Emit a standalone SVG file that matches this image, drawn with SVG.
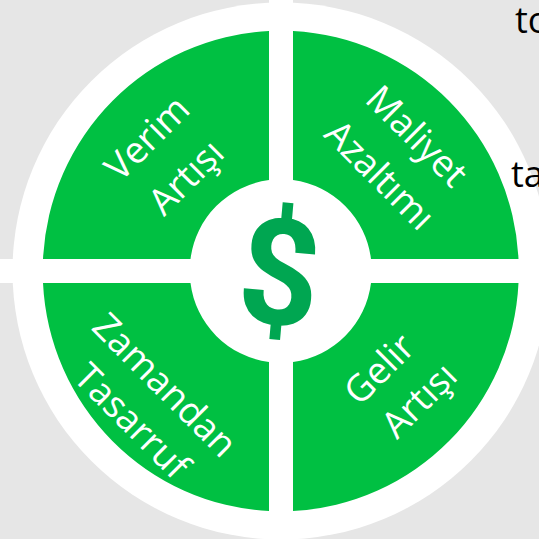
<svg xmlns="http://www.w3.org/2000/svg" width="539" height="539" viewBox="0 0 539 539">
<style>
.q{fill:#00C042}
.l{font-family:"Open Sans","Liberation Sans",sans-serif;font-size:37px;fill:#fff;text-anchor:middle}
.k{font-family:"Open Sans","Liberation Sans",sans-serif;font-size:36px;fill:#000}
</style>
<rect width="539" height="539" fill="#E6E6E6"/>
<circle cx="281" cy="271" r="268.500" fill="#fff"/>
<rect x="269" y="0" width="24" height="539" fill="#fff"/>
<rect x="0" y="259" width="539" height="24" fill="#fff"/>
<g id="verim">
<path class="q" d="M269 31A238 240 0 0 0 43 259H190.500A91 91 0 0 1 269 180Z"/>
<text class="l" transform="translate(147 138) rotate(-45)"><tspan x="0" y="13">Verim</tspan></text>
<text class="l" transform="translate(186 177) rotate(-45)"><tspan x="0" y="13">Artışı</tspan></text>
</g>
<g id="maliyet">
<path class="q" d="M293 31A238 240 0 0 1 518.500 259H371A91 91 0 0 0 293 180Z"/>
<text class="l" transform="translate(417 136) rotate(45)"><tspan x="0" y="13">Maliyet</tspan></text>
<text class="l" transform="translate(380 175) rotate(45)"><tspan x="0" y="13">Azaltımı</tspan></text>
</g>
<g id="zamandan">
<path class="q" d="M269 511A238 240 0 0 1 43 283H190.500A91 91 0 0 0 269 362Z"/>
<text class="l" transform="translate(165 385) rotate(45)"><tspan x="0" y="13">Zamandan</tspan></text>
<text class="l" transform="translate(132 421) rotate(45)"><tspan x="0" y="13">Tasarruf</tspan></text>
</g>
<g id="gelir">
<path class="q" d="M293 511A238 240 0 0 0 518.500 283H371A91 91 0 0 1 293 362Z"/>
<text class="l" transform="translate(379 369) rotate(-45)"><tspan x="0" y="13">Gelir</tspan></text>
<text class="l" transform="translate(419 400) rotate(-45)"><tspan x="0" y="13">Artışı</tspan></text>
</g>
<g id="dollar">
<text transform="translate(275 324) rotate(5) scale(.95 1)" text-anchor="middle" font-family="Roboto,'Liberation Sans',sans-serif" font-weight="700" font-size="148" fill="#00A651">$</text>
</g>
<text class="k" x="515" y="33">to</text>
<text class="k" x="511" y="187">ta</text>
</svg>
